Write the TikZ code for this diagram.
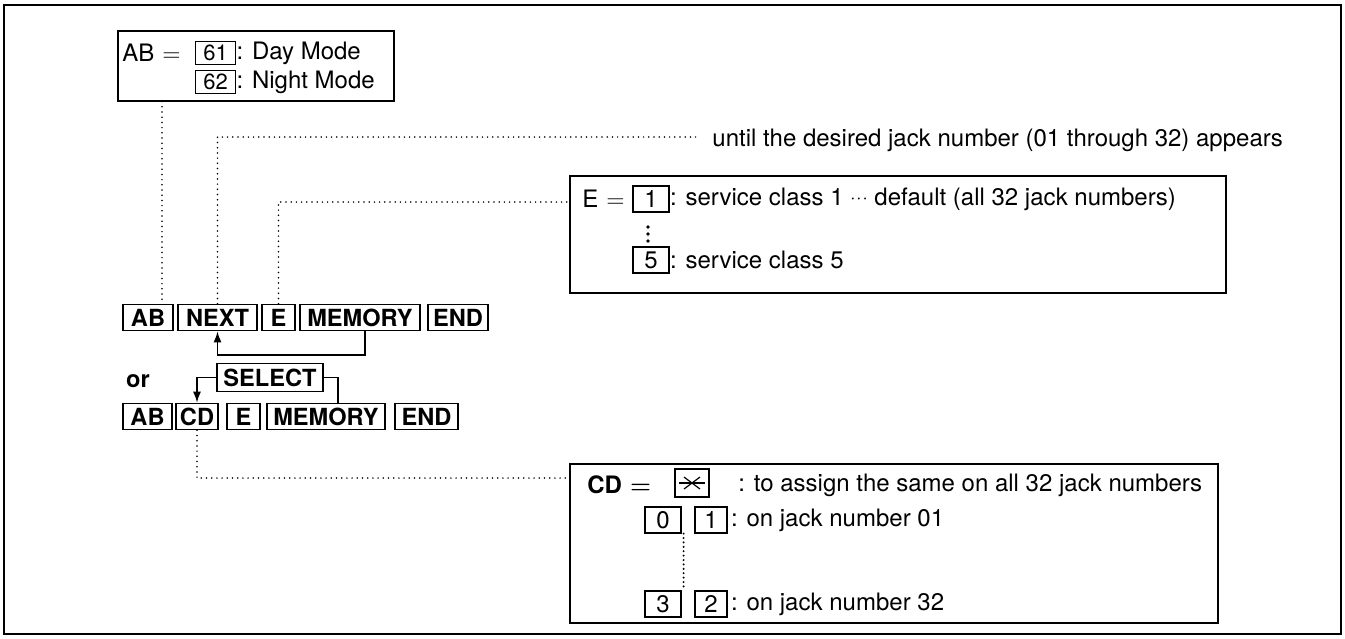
\documentclass[tikz,border=0pt]{standalone}
\usepackage{amsmath}
\usepackage{fontspec}
\setmainfont{TeX Gyre Heros}
\usetikzlibrary{arrows.meta,calc}
\begin{document}
\begin{tikzpicture}[x=0.5pt,y=-0.5pt,
  key/.style={draw,line width=0.8pt,inner sep=0pt,minimum height=13pt,font=\fontsize{11.8}{13}\selectfont\bfseries},
  digit/.style={draw,line width=0.6pt,inner sep=0pt,minimum height=13pt,font=\fontsize{12}{13}\selectfont},
  txt/.style={inner sep=0pt,anchor=west,font=\fontsize{12}{13}\selectfont},
  panel/.style={draw,line width=0.8pt,anchor=north west,inner sep=0pt},
  dots/.style={line width=0.85pt,dash pattern=on 0pt off 2.6pt,line cap=round},
  densedots/.style={line width=1.1pt,dash pattern=on 0pt off 2.2pt,line cap=round},
  link/.style={line width=0.8pt},
  arr/.style={line width=0.8pt,-{Latex[length=5.5pt,width=4pt]}}]
\useasboundingbox (0,0) rectangle (1345,638);
\draw[line width=1pt] (4,5) rectangle (1341,634);

% top-left panel
\node[panel,minimum width=138pt,minimum height=35pt] (topbox) at (117,30) {};
\node[txt] (abeq) at (122,53) {AB\hspace{4pt}$=$};
\node[digit,minimum width=20pt,minimum height=11.5pt,font=\fontsize{11}{12}\selectfont] (d61) at (215.5,53) {61};
\node[txt] (t61) at (d61.east) {: Day Mode};
\node[digit,minimum width=20pt,minimum height=11.5pt,font=\fontsize{11}{12}\selectfont] (d62) at (215.5,82) {62};
\node[txt] (t62) at (d62.east) {: Night Mode};

% key row 1
\node[key,minimum width=25pt] (ab1) at (148,317.5) {AB};
\node[key,minimum width=39.5pt] (next) at (217.5,317.5) {NEXT};
\node[key,minimum width=16.5pt] (e1) at (278.5,317.5) {E};
\node[key,minimum width=60pt] (mem1) at (360,317.5) {MEMORY};
\node[key,minimum width=30pt] (end1) at (458,317.5) {END};

\node[font=\fontsize{11.8}{13}\selectfont\bfseries] (or) at (138,381) {or};
\node[key,minimum width=53pt,minimum height=14pt] (sel) at (270,377.5) {SELECT};

% key row 2
\node[key,minimum width=24.5pt] (ab2) at (147.5,416.5) {AB};
\node[key,minimum width=21pt] (cd) at (197,416.5) {CD};
\node[key,minimum width=16.5pt] (e2) at (243.5,416.5) {E};
\node[key,minimum width=59pt] (mem2) at (326,416.5) {MEMORY};
\node[key,minimum width=31.5pt] (end2) at (426.5,416.5) {END};

% loop arrows
\coordinate (fb) at (365,355);
\draw[arr] (mem1.south -| fb) -- (fb) -| (next.south);
\draw[arr] (sel.west) -| (cd.north);
\coordinate (sr) at (338,403);
\draw[link] (sel.east) -| (sr);

% E panel
\node[panel,minimum width=328pt,minimum height=58.5pt] (ebox) at (569,175) {};
\node[txt] (eeq) at (582,199) {E\hspace{4pt}$=$};
\node[digit,minimum width=18pt] (e1d) at (651,199) {1};
\node[txt] (e1t) at (e1d.east) {: service class 1 {\fontsize{9}{10}\selectfont\raisebox{0.15ex}{$\cdot\!\cdot\!\cdot$}} default (all 32 jack numbers)};
\foreach \yy in {227,234,241} \fill (648,\yy) circle (0.9pt);
\node[digit,minimum width=18pt] (e5d) at (651,260) {5};
\node[txt] (e5t) at (e5d.east) {: service class 5};

% CD panel
\node[panel,minimum width=324pt,minimum height=79.5pt] (cdbox) at (569,463) {};
\node[txt,font=\fontsize{12}{13}\selectfont\bfseries] (cdeq) at (587,485) {CD\hspace{4pt}$\boldsymbol{=}$};
\node[digit,minimum width=17pt,minimum height=14pt] (star) at (692,483) {};
\draw[line width=0.6pt] ([xshift=-6.5pt]star.center) -- ([xshift=6.5pt]star.center);
\draw[line width=0.6pt] ([xshift=-4pt,yshift=3pt]star.center) -- ([xshift=4pt,yshift=-3pt]star.center);
\draw[line width=0.6pt] ([xshift=-4pt,yshift=-3pt]star.center) -- ([xshift=4pt,yshift=3pt]star.center);
\node[txt] (start) at (738,485) {: to assign the same on all 32 jack numbers};
\node[digit,minimum width=18pt] (d0) at (663,520) {0};
\node[digit,minimum width=16pt] (d1) at (711,520) {1};
\node[txt] (t01) at ([xshift=1.5pt]d1.east) {: on jack number 01};
\node[digit,minimum width=18pt] (d3) at (663,604) {3};
\node[digit,minimum width=16pt] (d2) at (711,604) {2};
\node[txt] (t32) at ([xshift=1.5pt]d2.east) {: on jack number 32};
\draw[densedots] ([xshift=1pt]d0.south east) -- ([xshift=1pt]d3.north east);

% dotted leaders
\coordinate (abx) at (162,0);
\draw[dots] (topbox.south -| abx) -- (ab1.north -| abx);
\coordinate (uj) at (700,137);
\node[txt] (until) at (712,140) {until the desired jack number (01 through 32) appears};
\draw[dots] (next.north) |- (uj);
\coordinate (ej) at (569,202);
\draw[dots] (e1.north) |- (ej);
\coordinate (cdj) at (569,478);
\draw[dots] (cd.south) |- (cdj);
\end{tikzpicture}
\end{document}
